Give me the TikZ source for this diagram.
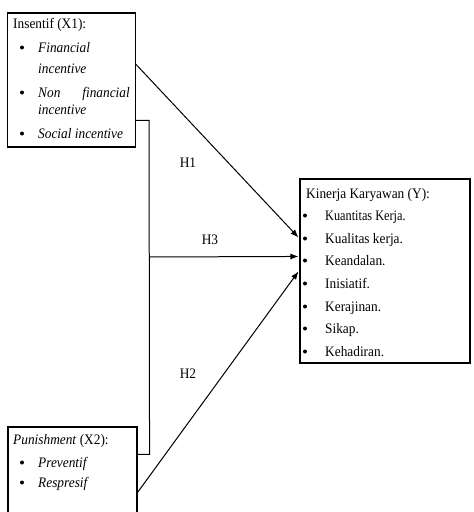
\documentclass[tikz,border=0pt]{standalone}
\usepackage{fontspec}
\setmainfont{Liberation Serif}
\newfontfamily\nf[FakeStretch=0.92]{Liberation Serif}
\usetikzlibrary{arrows.meta,calc}
\begin{document}
\begin{tikzpicture}[x=1pt,y=-1pt,
 box/.style={draw,line width=1.1pt,inner sep=0pt},
 txt/.style={anchor=base west,inner sep=0pt,font=\nf\fontsize{14.5}{17}\selectfont},
 txe/.style={anchor=base east,inner sep=0pt,font=\nf\fontsize{14.5}{17}\selectfont},
 bul/.style={circle,fill,inner sep=0pt,minimum size=4pt,yshift=4.5pt},
 conn/.style={line width=1pt},
 arr/.style={conn,-{Latex[length=8pt,width=6pt]}},
 lab/.style={inner sep=0pt,font=\nf\fontsize{14.5}{17}\selectfont}]
\useasboundingbox (0,0) rectangle (474,512);
\clip (0,0) rectangle (474,512);
% boxes
\node[box,minimum width=128pt,minimum height=134pt] (x1) at (71.5,80) {};
\node[box,minimum width=129pt,minimum height=100pt] (x2) at (72.5,477) {};
\node[box,minimum width=170pt,minimum height=184pt] (y) at (385,271) {};
% X1 text
\node[txt] (x1h) at (13,28) {Insentif (X1):};
\node[bul] (x1b1) at (22,52) {};
\node[txt] (x1t1) at (38,52) {\textit{Financial}};
\node[txt] (x1t2) at (38,73) {\textit{incentive}};
\node[bul] (x1b2) at (22,97) {};
\node[txt] (x1t3) at (38,97) {\textit{Non}};
\node[txe] (x1t4) at (130,97) {\textit{financial}};
\node[txt] (x1t5) at (38,114) {\textit{incentive}};
\node[bul] (x1b3) at (22,138) {};
\node[txt] (x1t6) at (38,138) {\textit{Social incentive}};
% X2 text
\node[txt] (x2h) at (13,444) {\textit{Punishment} (X2):};
\node[bul] (x2b1) at (22,467) {};
\node[txt] (x2t1) at (38,467) {\textit{Preventif}};
\node[bul] (x2b2) at (22,487) {};
\node[txt] (x2t2) at (38,487) {\textit{Respresif}};
% Y text
\node[txt] (yh) at (306,198) {Kinerja Karyawan (Y):};
\node[bul] (yb1) at (305,220) {};
\node[txt] (yt1) at (325,220) {\scalebox{0.92}[1]{Kuantitas Kerja.}};
\node[bul] (yb2) at (305,243) {};
\node[txt] (yt2) at (325,243) {Kualitas kerja.};
\node[bul] (yb3) at (305,265) {};
\node[txt] (yt3) at (325,265) {Keandalan.};
\node[bul] (yb4) at (305,288) {};
\node[txt] (yt4) at (325,288) {Inisiatif.};
\node[bul] (yb5) at (305,311) {};
\node[txt] (yt5) at (325,311) {Kerajinan.};
\node[bul] (yb6) at (305,333) {};
\node[txt] (yt6) at (325,333) {Sikap.};
\node[bul] (yb7) at (305,356) {};
\node[txt] (yt7) at (325,356) {Kehadiran.};
% connectors
\coordinate (ja) at ($(x1.north east)+(13,108)$);
\coordinate (jb) at ($(x2.north east)+(12,28)$);
\coordinate (jh) at (ja |- 0,257);
\draw[conn] ($(x1.north east)+(0,108)$) -- (ja) -- (jb) -- ($(x2.north east)+(0,28)$);
\draw[arr] ($(x1.north east)+(0,52)$) -- ($(y.north west)+(-1,59)$);
\draw[arr] (jh) -- ($(y.north west)+(-1,78)$);
\draw[arr] ($(x2.north east)+(0,66)$) -- ($(y.north west)+(-1,93)$);
% labels
\node[lab] (h1) at (188,163) {H1};
\node[lab] (h3) at (210,240) {H3};
\node[lab] (h2) at (188,374) {H2};
\end{tikzpicture}
\end{document}
